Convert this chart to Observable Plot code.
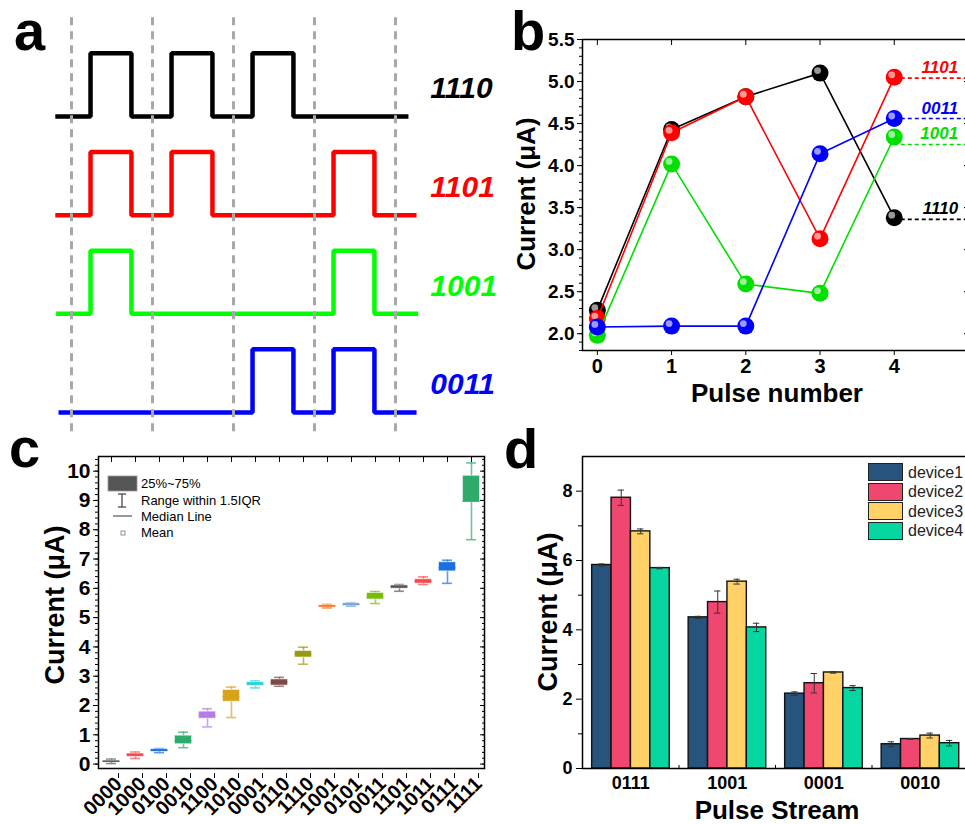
<!DOCTYPE html>
<html><head><meta charset="utf-8">
<script src="https://cdn.jsdelivr.net/npm/d3@7"></script>
<script src="https://cdn.jsdelivr.net/npm/@observablehq/plot@0.6"></script>
<style>
html,body{margin:0;padding:0;background:#fff;overflow:hidden}
#fig{position:relative;width:965px;height:824px;overflow:hidden;font-family:Arial,"Liberation Sans",sans-serif;color:#000}
.letter{position:absolute;font-weight:bold;font-size:56px;line-height:1}
.title{position:absolute;font-weight:bold;font-size:26px;white-space:nowrap;line-height:1;transform:translate(-50%,-50%)}
.vt{transform:translate(-50%,-50%) rotate(-90deg)}
.leg{position:absolute;font-size:13px;line-height:1;white-space:nowrap;transform:translateY(-50%)}
.dleg{position:absolute;font-size:16px;line-height:1;white-space:nowrap;transform:translateY(-50%);color:#222}
</style></head><body><div id="fig"></div>
<script>
// ---------- Panel a : pulse patterns ----------
const patterns = ["1110", "1101", "1001", "0011"];
const patternColors = ["#000000", "#ff0000", "#00ff00", "#0000ff"];
const slotBoundaries = [0, 1, 2, 3, 4];
const lineStart = [-0.2, -0.2, -0.19, -0.16];
const lineEnd = [4.16, 4.26, 4.28, 4.26];
const pulseRise = 0.235, pulseFall = 0.74, pulseHeight = 0.64;

// ---------- Panel b : current vs pulse number ----------
const pulseNumber = [0, 1, 2, 3, 4];
const b1110 = [2.28, 4.43, 4.82, 5.10, 3.38];
const b1101 = [2.18, 4.39, 4.82, 3.13, 5.05];
const b1001 = [1.98, 4.02, 2.59, 2.48, 4.34];
const b0011 = [2.08, 2.09, 2.09, 4.14, 4.56];
const bNames = ["1110", "1101", "1001", "0011"];
const bColors = ["#000000", "#ff0000", "#00e000", "#0000ff"];
const bTailLevel = [3.36, 5.04, 4.25, 4.56];
const bLabelLevel = [3.49, 5.17, 4.38, 4.68];

// ---------- Panel c : box plot ----------
const cCategories = ["0000","1000","0100","0010","1100","1010","0001","0110","1110","1001","0101","0011","1101","1011","0111","1111"];
const cLow  = [0.02,0.19,0.39,0.56,1.27,1.59,2.60,2.66,3.41,5.33,5.39,5.48,5.90,6.13,6.17,7.66];
const cQ1   = [0.06,0.25,0.42,0.68,1.55,2.13,2.67,2.68,3.64,5.36,5.41,5.62,5.99,6.16,6.58,8.94];
const cMed  = [0.09,0.31,0.47,0.80,1.65,2.30,2.74,2.80,3.75,5.39,5.44,5.70,6.05,6.25,6.70,8.97];
const cQ3   = [0.12,0.36,0.51,0.97,1.79,2.53,2.80,2.89,3.86,5.42,5.49,5.84,6.10,6.31,6.89,9.84];
const cHigh = [0.17,0.41,0.53,1.09,1.89,2.63,2.84,2.96,3.99,5.45,5.51,5.89,6.13,6.39,6.96,10.28];
const cColors = ["#5a5a5a","#f24b4b","#1b6fe0","#2eab6b","#b47de6","#d8a21a","#2bd3dd","#7b4b4b","#9a9a12","#ff6a12","#6c9fd8","#79bd08","#585858","#f24b4b","#1b6fe0","#2eab6b"];

// ---------- Panel d : grouped bars ----------
const dGroups = ["0111", "1001", "0001", "0010"];
const devices = ["device1", "device2", "device3", "device4"];
const device1 = [5.87, 4.36, 2.16, 0.70];
const device2 = [7.81, 4.80, 2.46, 0.85];
const device3 = [6.84, 5.39, 2.77, 0.95];
const device4 = [5.78, 4.07, 2.32, 0.73];
const device1Err = [0.03, 0.03, 0.05, 0.07];
const device2Err = [0.22, 0.32, 0.28, 0.01];
const device3Err = [0.07, 0.07, 0.02, 0.07];
const device4Err = [0.02, 0.12, 0.07, 0.08];
const dColors = ["#26547c", "#ef476f", "#ffd166", "#06d6a0"];

// ---------- helpers ----------
const FONT = 'Arial, "Liberation Sans", sans-serif';
const fig = document.getElementById("fig");
function place(svg, left, top) {
  const d = document.createElement("div");
  d.style.cssText = `position:absolute;left:${left}px;top:${top}px;`;
  svg.style.overflow = "visible";
  svg.style.background = "transparent";
  svg.style.maxWidth = "none";
  d.appendChild(svg);
  fig.appendChild(d);
}
function html(tag, cls, text, css) {
  const e = document.createElement(tag);
  e.className = cls; e.textContent = text; e.style.cssText += css;
  fig.appendChild(e); return e;
}

// ---------- Panel a ----------
const aPts = patterns.flatMap((p, r) => {
  const pts = [{x: lineStart[r], y: r}];
  [...p].forEach((b, k) => {
    if (b === "1") pts.push({x: k + pulseRise, y: r}, {x: k + pulseRise, y: r - pulseHeight},
                             {x: k + pulseFall, y: r - pulseHeight}, {x: k + pulseFall, y: r});
  });
  pts.push({x: lineEnd[r], y: r});
  return pts.map(d => ({...d, row: r, color: patternColors[r]}));
});
place(Plot.plot({
  width: 500, height: 440, margin: 0,
  x: {domain: [0, 4], range: [71, 395], axis: null},
  y: {domain: [0, 3], range: [116, 412], axis: null},
  color: {type: "identity"},
  style: {fontFamily: FONT},
  marks: [
    Plot.line(aPts, {x: "x", y: "y", z: "row", stroke: "color", strokeWidth: 4.5, strokeLinejoin: "miter", strokeLinecap: "butt"}),
    Plot.ruleX(slotBoundaries, {x: d => d, y1: -1.0, y2: 3.23, stroke: "#a8a8a8", strokeWidth: 3, strokeDasharray: "8,6"}),
    Plot.text(patterns, {x: 4.43, y: (d, i) => i - 0.28, text: d => d, fill: (d, i) => patternColors[i],
      textAnchor: "start", fontSize: 30, fontWeight: "bold", fontStyle: "italic"})
  ]
}), 0, 0);

// ---------- Panel b ----------
const bSeries = [b1110, b1101, b1001, b0011];
const bData = bSeries.flatMap((vals, s) => vals.map((v, i) => ({name: bNames[s], x: pulseNumber[i], y: v, color: bColors[s]})));
const bTails = bNames.map((n, s) => ({name: n, y: bTailLevel[s], labelY: bLabelLevel[s], color: bColors[s]}));
const bMajor = d3.range(0, 8).map(i => 2 + i * 0.5);
const bMinor = d3.range(18, 56).map(v => v / 10);
const bMarks = [
  Plot.ruleY(bTails, {x1: 4, x2: 5.0, y: "y", stroke: "color", strokeWidth: 1.6, strokeDasharray: "4,3"})
];
bNames.forEach(n => {
  const sd = bData.filter(d => d.name === n);
  bMarks.push(
    Plot.line(sd, {x: "x", y: "y", stroke: "color", strokeWidth: 1.6}),
    Plot.dot(sd, {x: "x", y: "y", r: 8.5, fill: "color"}),
    Plot.dot(sd, {x: "x", y: "y", r: 3.4, fill: "white", fillOpacity: 0.6, dx: -2.5, dy: -2.5})
  );
});
bMarks.push(
  Plot.text(bTails, {x: 4.86, y: "labelY", text: "name", fill: "color", textAnchor: "end", fontSize: 17, fontWeight: "bold", fontStyle: "italic"}),
  Plot.axisY({ticks: bMajor, tickSize: 5, tickPadding: 3, tickFormat: d3.format(".1f"), fontSize: 19, fontWeight: "bold", label: null}),
  Plot.axisY({ticks: bMinor, tickSize: 3, text: null, label: null}),
  Plot.axisY({anchor: "right", ticks: bMajor, tickSize: -5, text: null, label: null}),
  Plot.axisX({ticks: pulseNumber, tickSize: 5, tickPadding: 3, tickFormat: d3.format("d"), fontSize: 20, fontWeight: "bold", label: null}),
  Plot.axisX({anchor: "top", ticks: pulseNumber, tickSize: -5, text: null, label: null}),
  Plot.frame({strokeWidth: 1.5})
);
place(Plot.plot({
  width: 470, height: 420, marginLeft: 82, marginRight: 2, marginTop: 39, marginBottom: 70,
  x: {domain: [-0.2, 5.0]}, y: {domain: [1.8, 5.5]},
  color: {type: "identity"},
  style: {fontFamily: FONT},
  marks: bMarks
}), 500, 0);

// ---------- Panel c ----------
const cData = cCategories.map((c, i) => ({c, low: cLow[i], q1: cQ1[i], med: cMed[i], q3: cQ3[i], high: cHigh[i], color: cColors[i]}));
const cMajor = d3.range(0, 11);
const cMinor = d3.range(0, 53).map(i => i * 0.2);
place(Plot.plot({
  width: 500, height: 384, marginLeft: 98, marginRight: 16, marginTop: 16, marginBottom: 56,
  x: {type: "band", domain: cCategories, padding: 0},
  y: {domain: [-0.15, 10.5]},
  color: {type: "identity"},
  style: {fontFamily: FONT},
  marks: [
    Plot.ruleX(cData, {x: "c", y1: "low", y2: "high", stroke: "color", strokeWidth: 1.6, strokeOpacity: 0.7}),
    Plot.tickY(cData, {x: "c", y: "low", stroke: "color", strokeWidth: 1.6, strokeOpacity: 0.7, insetLeft: 7, insetRight: 7}),
    Plot.tickY(cData, {x: "c", y: "high", stroke: "color", strokeWidth: 1.6, strokeOpacity: 0.7, insetLeft: 7, insetRight: 7}),
    Plot.barY(cData, {x: "c", y1: "q1", y2: "q3", fill: "color", insetLeft: 3.5, insetRight: 3.5, stroke: "white", strokeOpacity: 0.5, strokeWidth: 1}),
    Plot.tickY(cData, {x: "c", y: "med", stroke: "color", strokeWidth: 1, insetLeft: 3.5, insetRight: 3.5}),
    Plot.axisY({ticks: cMajor, tickSize: 5, tickPadding: 3, fontSize: 21, fontWeight: "bold", label: null}),
    Plot.axisY({ticks: cMinor, tickSize: 3, text: null, label: null}),
    Plot.axisY({anchor: "right", ticks: cMajor, tickSize: -5, text: null, label: null}),
    Plot.axisY({anchor: "right", ticks: cMinor, tickSize: -3, text: null, label: null}),
    Plot.axisX({tickSize: 5, tickPadding: 2, tickRotate: -45, fontSize: 20, fontWeight: "bold", label: null, dx: 7, dy: 5}),
    Plot.axisX({anchor: "top", tickSize: -5, text: null, label: null}),
    Plot.frame({strokeWidth: 1.5})
  ]
}), 0, 440);

// ---------- Panel d ----------
const dVals = [device1, device2, device3, device4];
const dErrs = [device1Err, device2Err, device3Err, device4Err];
const barW = 0.201, groupHalf = 0.40;
const dData = devices.flatMap((dev, j) => dGroups.map((g, i) => ({
  group: g, gi: i, device: dev, j, v: dVals[j][i], e: dErrs[j][i],
  x1: i - groupHalf + j * barW, x2: i - groupHalf + (j + 1) * barW, xc: i - groupHalf + (j + 0.5) * barW
})));
place(Plot.plot({
  width: 470, height: 384, marginLeft: 82, marginRight: 2, marginTop: 16, marginBottom: 56,
  x: {domain: [-0.5, 3.5]},
  y: {domain: [0, 9]},
  color: {domain: devices, range: dColors},
  style: {fontFamily: FONT},
  marks: [
    Plot.rectY(dData, {x1: "x1", x2: "x2", y1: 0, y2: "v", fill: "device", stroke: "#111", strokeWidth: 1.4}),
    Plot.ruleX(dData, {x: "xc", y1: d => d.v - d.e, y2: d => d.v + d.e, stroke: "#333", strokeWidth: 1}),
    Plot.ruleY(dData, {y: d => d.v + d.e, x1: d => d.xc - 0.033, x2: d => d.xc + 0.033, stroke: "#333", strokeWidth: 1}),
    Plot.ruleY(dData, {y: d => d.v - d.e, x1: d => d.xc - 0.033, x2: d => d.xc + 0.033, stroke: "#333", strokeWidth: 1}),
    Plot.axisY({ticks: [0, 2, 4, 6, 8], tickSize: 6, tickPadding: 4, fontSize: 18, fontWeight: "bold", label: null}),
    Plot.axisY({ticks: [1, 3, 5, 7], tickSize: 4, text: null, label: null}),
    Plot.axisX({ticks: [0, 1, 2, 3], tickSize: 0, tickPadding: 8, tickFormat: i => dGroups[i], fontSize: 18, fontWeight: "bold", label: null}),
    Plot.axisX({ticks: [0.5, 1.5, 2.5], tickSize: -3, text: null, label: null}),
    Plot.frame({strokeWidth: 1.5})
  ]
}), 500, 440);

// ---------- Text, letters, legends ----------
html("div", "letter", "a", "left:14px;top:3px;");
html("div", "letter", "b", "left:511px;top:3px;");
html("div", "letter", "c", "left:9px;top:420px;");
html("div", "letter", "d", "left:504px;top:421px;");

html("div", "title vt", "Current (μA)", "left:526px;top:194px;");
html("div", "title", "Pulse number", "left:777px;top:393px;");
html("div", "title vt", "Current (μA)", "left:55px;top:605px;font-size:27px;");
html("div", "title vt", "Current (μA)", "left:548px;top:612px;font-size:27px;");
html("div", "title", "Pulse Stream", "left:777px;top:810px;font-size:26px;");

// panel c legend
const cLegSym = document.createElementNS("http://www.w3.org/2000/svg", "svg");
cLegSym.setAttribute("width", "40"); cLegSym.setAttribute("height", "70");
cLegSym.style.cssText = "position:absolute;left:104px;top:473px;overflow:visible";
cLegSym.innerHTML = `
  <rect x="4" y="3" width="29" height="15" fill="#555" stroke="#999" stroke-width="0.8"/>
  <line x1="18" y1="21" x2="18" y2="34" stroke="#555" stroke-width="1.4"/>
  <line x1="14" y1="21" x2="22" y2="21" stroke="#555" stroke-width="1.4"/>
  <line x1="14" y1="34" x2="22" y2="34" stroke="#555" stroke-width="1.4"/>
  <line x1="9" y1="43" x2="28" y2="43" stroke="#555" stroke-width="1.2"/>
  <rect x="17" y="58" width="4" height="4" fill="none" stroke="#777" stroke-width="0.8"/>`;
fig.appendChild(cLegSym);
const cLegText = ["25%~75%", "Range within 1.5IQR", "Median Line", "Mean"];
const cLegY = [483, 500, 516, 532];
cLegText.forEach((t, i) => html("div", "leg", t, `left:141px;top:${cLegY[i]}px;`));

// panel d legend
devices.forEach((dev, i) => {
  const top = 463 + i * 19.5;
  const box = document.createElement("div");
  box.style.cssText = `position:absolute;left:868px;top:${top}px;width:33px;height:16px;background:${dColors[i]};border:1.2px solid #222;`;
  fig.appendChild(box);
  html("div", "dleg", dev, `left:908px;top:${top + 9.5}px;`);
});
</script></body></html>
